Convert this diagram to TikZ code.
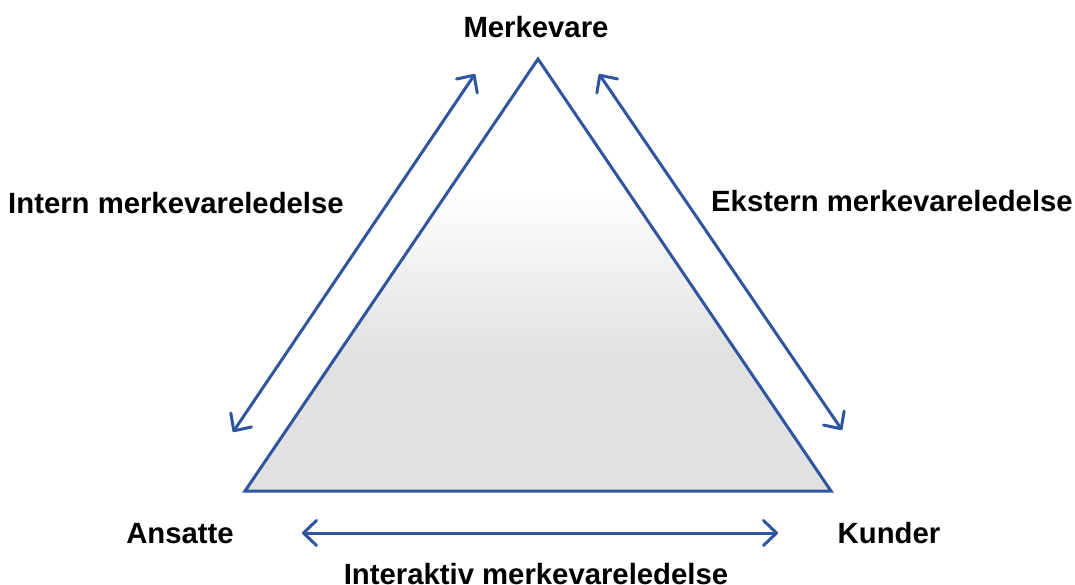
\documentclass[tikz,border=0pt]{standalone}
\usepackage{fontspec}
\setmainfont{Liberation Sans}
\usetikzlibrary{arrows.meta}
\definecolor{brandblue}{RGB}{47,84,160}
\definecolor{fillgray}{RGB}{225,225,225}
% white in the upper part of the triangle, fading to light grey lower down
\pgfdeclareverticalshading{trifade}{100bp}{color(0bp)=(fillgray); color(41bp)=(fillgray); color(60bp)=(white); color(100bp)=(white)}
\tikzset{
  edge line/.style={draw=brandblue, line width=3pt, line join=miter},
  twoway/.style={draw=brandblue, line width=3pt, line cap=round,
    {Straight Barb[length=13pt,width=25pt,line cap=round,line join=round]}-{Straight Barb[length=13pt,width=25pt,line cap=round,line join=round]}},
  label text/.style={font=\bfseries\fontsize{29.3}{35}\selectfont, inner sep=0pt, anchor=base}
}
\begin{document}
\begin{tikzpicture}[x=1pt,y=-1pt]
\useasboundingbox (0,0) rectangle (1075,584);

% corners of the triangle
\coordinate (top) at (538,59);
\coordinate (bl) at (245,491);
\coordinate (br) at (831,491);

\shade[shading=trifade] (top) -- (bl) -- (br) -- cycle;
\draw[edge line] (top) -- (bl) -- (br) -- cycle;

% arrow end points
\coordinate (la) at (475,74);
\coordinate (lb) at (233,432);
\coordinate (ra) at (599,74);
\coordinate (rb) at (842,430);
\coordinate (ba) at (302,533);
\coordinate (bb) at (778,533);

\draw[twoway] (la) -- (lb);
\draw[twoway] (ra) -- (rb);
\draw[twoway] (ba) -- (bb);

% labels
\node[label text] (merk) at (536,37) {Merkevare};
\node[label text] (intern) at (176,213) {Intern merkevareledelse};
\node[label text] (ekstern) at (892,211) {Ekstern merkevareledelse};
\node[label text] (ansatte) at (180,543) {Ansatte};
\node[label text] (kunder) at (889,543) {Kunder};
\node[label text] (inter) at (536,584) {Interaktiv merkevareledelse};
\end{tikzpicture}
\end{document}
